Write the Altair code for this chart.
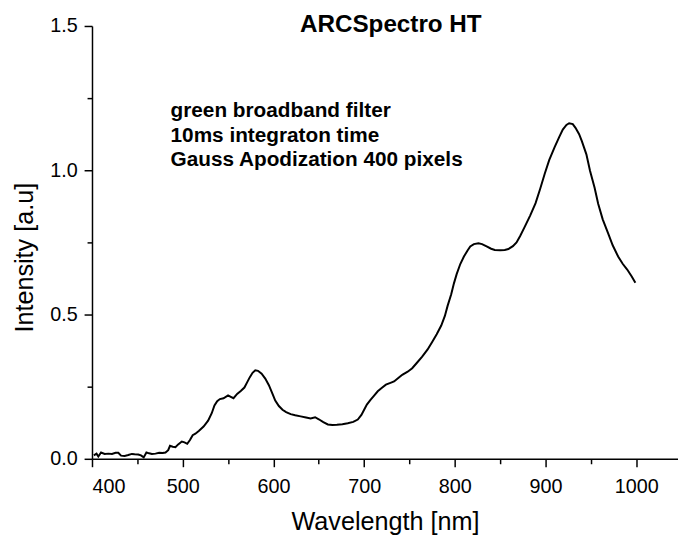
import altair as alt
import pandas as pd

# ---- data ----
wavelength = [402, 405, 407, 410, 414, 418, 422, 426, 429, 432, 436, 440, 444, 447,
              451, 454, 457, 460, 463, 466, 470, 474, 478, 481, 484, 486, 489, 492,
              495, 499, 502, 505, 508, 511, 514, 518, 523, 528, 532, 535, 538, 541,
              545, 550, 553, 556, 560, 564, 568, 571, 574, 577, 580, 583, 587, 591,
              595, 599, 602, 606, 610, 614, 619, 624, 630, 636, 641, 646, 650, 655,
              660, 665, 670, 676, 682, 688, 693, 697, 700, 703, 707, 711, 715, 720,
              724, 729, 733, 738, 742, 748, 753, 758, 764, 770, 775, 780, 785, 789,
              792, 796, 799, 802, 806, 810, 814, 817, 821, 826, 830, 835, 840, 844,
              850, 855, 859, 864, 868, 872, 877, 883, 889, 894, 899, 904, 910, 915,
              919, 923, 926, 930, 933, 937, 940, 945, 949, 954, 958, 963, 969, 974,
              980, 985, 990, 995, 999]
intensity = [0.012, 0.018, 0.008, 0.022, 0.017, 0.018, 0.017, 0.021, 0.021, 0.011,
             0.010, 0.013, 0.017, 0.016, 0.015, 0.012, 0.005, 0.022, 0.019, 0.017,
             0.018, 0.021, 0.020, 0.022, 0.030, 0.045, 0.042, 0.040, 0.050, 0.060,
             0.057, 0.052, 0.065, 0.082, 0.087, 0.097, 0.112, 0.132, 0.158, 0.185,
             0.200, 0.207, 0.210, 0.220, 0.215, 0.210, 0.225, 0.235, 0.247, 0.265,
             0.283, 0.298, 0.307, 0.305, 0.295, 0.278, 0.255, 0.225, 0.202, 0.183,
             0.170, 0.162, 0.155, 0.151, 0.147, 0.143, 0.140, 0.144, 0.137, 0.127,
             0.119, 0.117, 0.118, 0.120, 0.123, 0.128, 0.136, 0.152, 0.170, 0.188,
             0.204, 0.219, 0.234, 0.247, 0.257, 0.263, 0.268, 0.281, 0.291, 0.302,
             0.314, 0.332, 0.354, 0.379, 0.405, 0.432, 0.462, 0.495, 0.530, 0.570,
             0.608, 0.640, 0.675, 0.701, 0.722, 0.736, 0.744, 0.747, 0.744, 0.736,
             0.728, 0.724, 0.723, 0.724, 0.727, 0.737, 0.750, 0.772, 0.804, 0.843,
             0.886, 0.935, 0.987, 1.035, 1.080, 1.115, 1.141, 1.157, 1.163, 1.160,
             1.147, 1.125, 1.101, 1.055, 0.998, 0.940, 0.884, 0.830, 0.781, 0.740,
             0.701, 0.676, 0.656, 0.632, 0.610]

x_ticks = [400, 500, 600, 700, 800, 900, 1000]
x_minor = [450, 550, 650, 750, 850, 950]
y_ticks = [0.0, 0.5, 1.0, 1.5]
y_minor = [0.25, 0.75, 1.25]

title_text = "ARCSpectro HT"
note_lines = ["green broadband filter", "10ms integraton time",
              "Gauss Apodization 400 pixels"]
x_title = "Wavelength [nm]"
y_title = "Intensity [a.u]"

df = pd.DataFrame({"wl": wavelength, "I": intensity})
one_row = pd.DataFrame({"k": [0]})

FONT = "Liberation Sans"
xs = alt.Scale(domain=[400, 1046], nice=False, zero=False)
ys = alt.Scale(domain=[0, 1.5], nice=False, zero=False)

line = alt.Chart(df).mark_line(color="black", strokeWidth=2).encode(
    x=alt.X("wl:Q", scale=xs, title=x_title,
            axis=alt.Axis(values=x_ticks, format="d", orient="bottom", tickSize=8,
                          labelPadding=10, titlePadding=14)),
    y=alt.Y("I:Q", scale=ys, title=y_title,
            axis=alt.Axis(values=y_ticks, format=".1f", orient="left", tickSize=8,
                          labelPadding=7, titlePadding=12, titleY=234)),
)

minor = alt.Chart(df).mark_line(strokeOpacity=0).encode(
    x=alt.X("wl:Q", scale=xs, title=None,
            axis=alt.Axis(values=x_minor, labels=False, domain=False,
                          orient="bottom", tickSize=5)),
    y=alt.Y("I:Q", scale=ys, title=None,
            axis=alt.Axis(values=y_minor, labels=False, domain=False,
                          orient="left", tickSize=5)),
)

note = alt.Chart(one_row).mark_text(
    align="left", baseline="alphabetic", font=FONT, fontSize=21,
    fontWeight="bold", lineHeight=24.5, color="black"
).encode(
    x=alt.XDatum(486.6, axis=None),
    y=alt.YDatum(1.183, axis=None),
    text=alt.value(note_lines),
)

title = alt.Chart(one_row).mark_text(
    align="center", baseline="alphabetic", font=FONT, fontSize=24.5,
    fontWeight="bold", color="black"
).encode(
    x=alt.XDatum(729.4, axis=None),
    y=alt.YDatum(1.48, axis=None),
    text=alt.value(title_text),
)

chart = alt.layer(line, minor, note, title).resolve_scale(
    x="shared", y="shared"
).resolve_axis(
    x="independent", y="independent"
).properties(
    width=593,
    height=438,
    autosize=alt.AutoSizeParams(type="none"),
    padding={"left": 85, "top": 15, "right": 0, "bottom": 82},
).configure_view(
    stroke=None
).configure_axis(
    grid=False,
    domainColor="black", domainWidth=1.5,
    tickColor="black", tickWidth=1.5,
    labelFont=FONT, labelFontSize=20, labelColor="black",
    titleFont=FONT, titleFontSize=25.5, titleFontWeight="normal", titleColor="black",
)

chart.save("out.html", embed_options={"renderer": "svg", "actions": False})
